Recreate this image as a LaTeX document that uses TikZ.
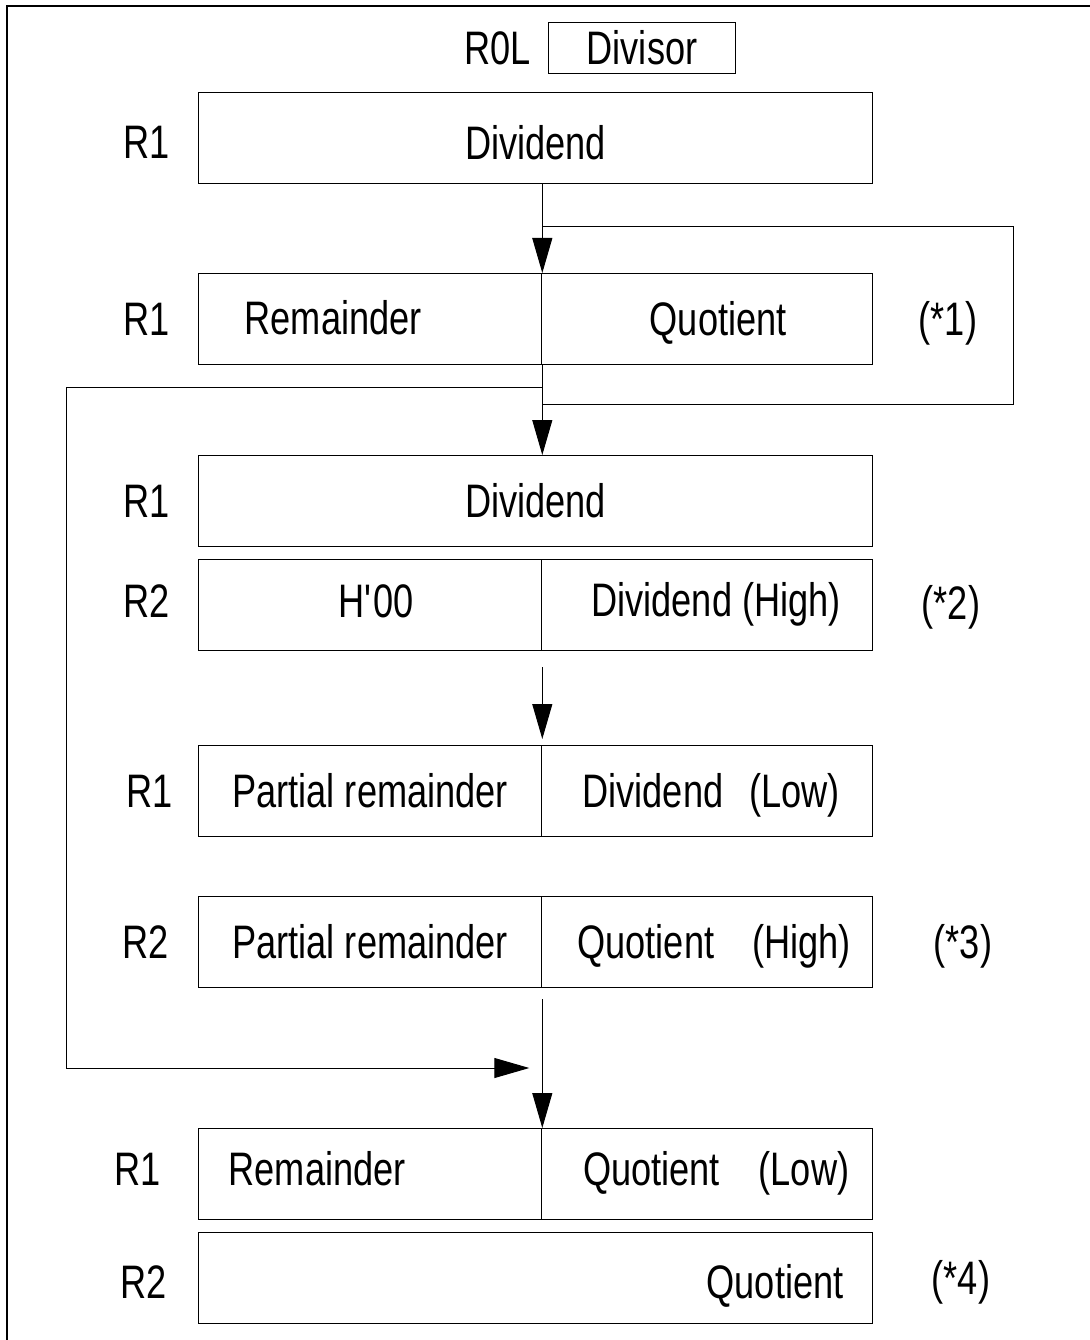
\documentclass[tikz,border=0pt]{standalone}
\usepackage{fontspec}
\setmainfont[FakeStretch=0.77]{Liberation Sans}
\usetikzlibrary{positioning,arrows.meta}

\tikzset{
  regbox/.style={draw,line width=1.3pt,minimum height=91pt,inner sep=0pt,anchor=north west},
  regname/.style={inner sep=0pt},
  note/.style={inner sep=0pt},
  every node/.append style={text height=33.6pt,text depth=0pt},
}

\begin{document}
\begin{tikzpicture}[x=1pt,y=-1pt,font=\fontsize{47}{56}\selectfont,
    >={Triangle[length=35pt,width=20pt]},line width=1pt]
  \useasboundingbox (0,0) rectangle (1089,1340);
  \draw[line width=2.5pt] (7,1345) -- (7,6) -- (1095,6);

  % divisor
  \node[regbox,minimum width=187pt,minimum height=51pt,line width=1pt] (dvs) at (548,22) {Divisor};
  \node[regname,left=17pt of dvs] (r0l) {R0L};

  % dividend in R1
  \node[regbox,minimum width=674pt] (dvd) at (198,92) {\raisebox{-5pt}{Dividend}};
  \node[regname,left=28pt of dvd,yshift=-4pt] (r1a) {R1};

  % (*1)
  \node[regbox,minimum width=343pt,label={[xshift=-37pt,yshift=1pt]center:Remainder}] (rem) at (198,273) {};
  \node[regbox,minimum width=331pt] (quo) at (541,273) {\hspace{22pt}Quotient};
  \node[regname,left=28pt of rem] (r1b) {R1};
  \node[note,right=45pt of quo] (n1) {(*1)};

  % (*2)
  \node[regbox,minimum width=674pt] (dvd2) at (198,455) {Dividend};
  \node[regname,left=28pt of dvd2] (r1c) {R1};
  \node[regbox,minimum width=343pt] (hzero) at (198,559) {\raisebox{4pt}{\hspace{12pt}H\textquotesingle00}};
  \node[regbox,minimum width=331pt] (dvdh) at (541,559) {\raisebox{5pt}{\hspace{18pt}Dividend (High)}};
  \node[regname,left=28pt of hzero,yshift=4pt] (r2a) {R2};
  \node[note,right=48pt of dvdh,yshift=2pt] (n2) {(*2)};

  % (*3)
  \node[regbox,minimum width=343pt] (prem1) at (198,745) {Partial remainder};
  \node[regbox,minimum width=331pt] (dvdl) at (541,745) {\hspace{8pt}Dividend\hspace{26pt}(Low)};
  \node[regname,left=25pt of prem1] (r1d) {R1};
  \node[regbox,minimum width=343pt] (prem2) at (198,896) {Partial remainder};
  \node[regbox,minimum width=331pt] (quoh) at (541,896) {\hspace{14pt}Quotient\hspace{38pt}(High)};
  \node[regname,left=29pt of prem2] (r2b) {R2};
  \node[note,right=60pt of quoh] (n3) {(*3)};

  % (*4)
  \node[regbox,minimum width=343pt,label={[xshift=-53pt,yshift=5pt]center:Remainder}] (remb) at (198,1128) {};
  \node[regbox,minimum width=331pt] (quol) at (541,1128) {\raisebox{5pt}{\hspace{18pt}Quotient\hspace{39pt}(Low)}};
  \node[regname,left=37pt of remb,yshift=5pt] (r1e) {R1};
  \node[regbox,minimum width=674pt,label={[anchor=east,xshift=-26pt,yshift=-4pt]east:Quotient}] (quob) at (198,1232) {};
  \node[regname,left=31pt of quob,yshift=-4pt] (r2c) {R2};
  \node[note,right=58pt of quob] (n4) {(*4)};

  % flow
  \coordinate (upR) at (1013,227);
  \coordinate (dnR) at (1013,404);
  \coordinate (lftT) at (66,387);
  \coordinate (lftB) at (66,1068);

  \draw[->] (rem.north east |- dvd.south) -- (rem.north east);
  \draw (rem.north east |- upR) -- (upR) -- (dnR) -- (rem.north east |- dnR);
  \draw[->] (rem.south east) -- (rem.south east |- dvd2.north);
  \draw[->,shorten >=13pt] (rem.south east |- lftT) -- (lftT) -- (lftB) -- (lftB -| remb.north east);
  \draw[->,shorten <=16pt,shorten >=6pt] (hzero.south east) -- (prem1.north east);
  \draw[->,shorten <=11pt] (prem2.south east) -- (remb.north east);
\end{tikzpicture}
\end{document}
